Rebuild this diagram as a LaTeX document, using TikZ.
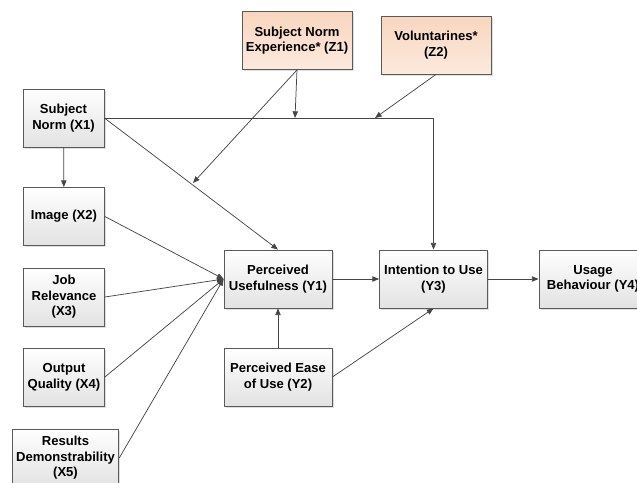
\documentclass[tikz,border=0pt]{standalone}
\usepackage{fontspec}
\setmainfont{Liberation Sans}
\usetikzlibrary{arrows.meta}
\usetikzlibrary{shadows}

\definecolor{boxline}{RGB}{90,90,90}
\definecolor{boxlow}{RGB}{226,226,226}
\definecolor{peachtop}{RGB}{248,214,190}
\definecolor{peachlow}{RGB}{252,234,222}
\definecolor{linkcol}{RGB}{70,70,70}

\begin{document}
\begin{tikzpicture}[x=0.75pt,y=-0.75pt]
  \tikzset{box/.style = {shape=rectangle,draw=boxline,line width=0.6pt,top color=white,bottom color=boxlow,
      minimum width=60.75pt,minimum height=43.5pt,inner sep=1pt,align=center,
      font=\bfseries\fontsize{9.8}{11.7}\selectfont,
      drop shadow={shadow xshift=1.2pt,shadow yshift=-1.2pt,opacity=0.25}}}
  \tikzset{modbox/.style = {box,top color=peachtop,bottom color=peachlow,minimum width=82.5pt}}
  \tikzset{widebox/.style = {box,minimum width=81pt}}
  \tikzset{link/.style = {draw=linkcol,line width=0.55pt,-{Triangle[length=5pt,width=4pt]}}}

  \useasboundingbox (0,0) rectangle (637,483);

	\node[modbox] (Z1) at (297,40.5) {Subject Norm\\Experience* (Z1)};
	\node[modbox] (Z2) at (436,45) {Voluntarines*\\(Z2)};
	\node[box] (X1) at (63.5,118) {Subject\\Norm (X1)};
	\node[box] (X2) at (64,216.5) {Image (X2)};
	\node[box] (X3) at (64,297) {Job\\Relevance\\(X3)};
	\node[box] (X4) at (64,377) {Output\\Quality (X4)};
	\node[box,minimum width=80pt] (X5) at (65.5,458) {Results\\Demonstrability\\(X5)};
	\node[widebox] (Y1) at (278,279) {Perceived\\Usefulness (Y1)};
	\node[widebox] (Y2) at (278,377) {Perceived Ease\\of Use (Y2)};
	\node[widebox] (Y3) at (433.5,279) {Intention to Use\\(Y3)};
	\node[widebox] (Y4) at (593,279) {Usage\\Behaviour (Y4)};

	\coordinate (j1) at (295,118);
	\coordinate (j2) at (375,118);
	\coordinate (j3) at (193,183);

	\draw[link] (X1.east) -| (Y3.north);
	\draw[link] (X1) -- (X2);
	\draw[link] (X1.east) -- (Y1.north);
	\draw[link] (Z1.south) -- (j1);
	\draw[link] (Z1.south) -- (j3);
	\draw[link] (Z2.south) -- (j2);

       \foreach \from in {X2, X3, X4, X5}
    \draw[link] (\from.east) -- (Y1.west);
	\draw[link] (Y2) -- (Y1);
	\draw[link] (Y1) -- (Y3);
	\draw[link] (Y2.east) -- (Y3.south);
	\draw[link] (Y3) -- (Y4);
\end{tikzpicture}
\end{document}
